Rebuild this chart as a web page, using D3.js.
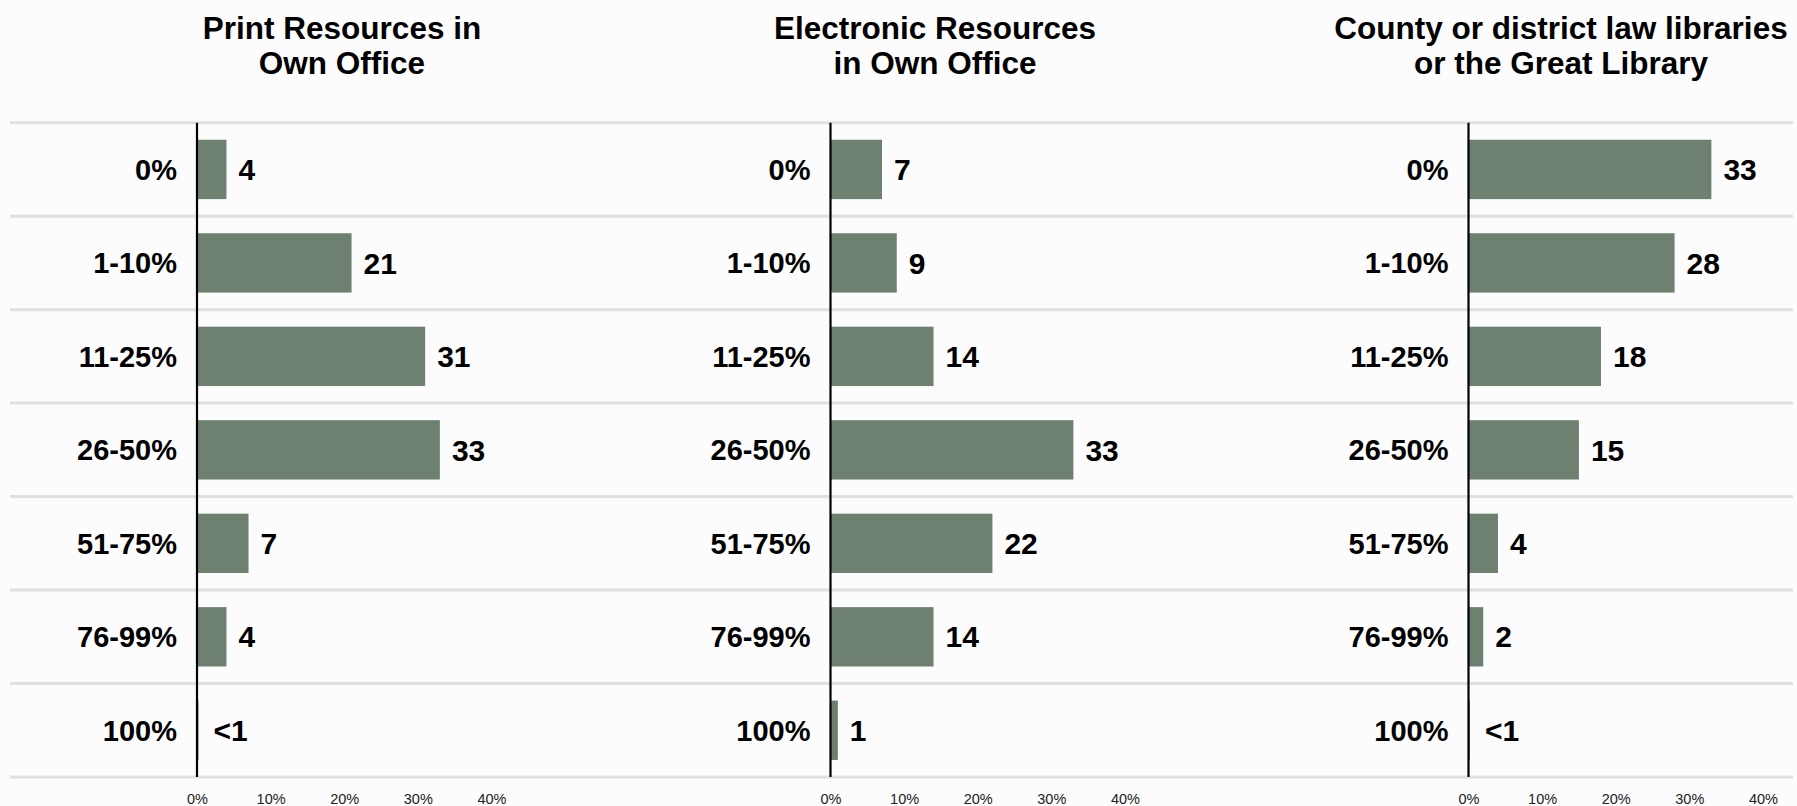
<!DOCTYPE html>
<html>
<head>
<meta charset="utf-8">
<script src="https://cdn.jsdelivr.net/npm/d3@7"></script>
<style>
  html, body { margin: 0; padding: 0; background: #fcfcfc; }
  svg { display: block; }
  text { font-family: "Liberation Sans", Arial, sans-serif; }
</style>
</head>
<body>
<svg id="chart" width="1797" height="806"></svg>
<script>
// ---- data ----
const categories = ["0%", "1-10%", "11-25%", "26-50%", "51-75%", "76-99%", "100%"];
const panelTitles = [
  ["Print Resources in", "Own Office"],
  ["Electronic Resources", "in Own Office"],
  ["County or district law libraries", "or the Great Library"]
];
const printValues      = [4, 21, 31, 33, 7, 4, 0.2];
const printLabels      = ["4", "21", "31", "33", "7", "4", "<1"];
const electronicValues = [7, 9, 14, 33, 22, 14, 1];
const electronicLabels = ["7", "9", "14", "33", "22", "14", "1"];
const libraryValues    = [33, 28, 18, 15, 4, 2, 0.2];
const libraryLabels    = ["33", "28", "18", "15", "4", "2", "<1"];
const tickValues = [0, 10, 20, 30, 40];

const panels = [
  { title: panelTitles[0], values: printValues, labels: printLabels },
  { title: panelTitles[1], values: electronicValues, labels: electronicLabels },
  { title: panelTitles[2], values: libraryValues, labels: libraryLabels }
];

// ---- layout ----
const W = 1797, H = 806;
const axisX = [197, 830.5, 1468.5];
const titleX = [342, 935, 1561];
const plotTop = 122.7, plotBottom = 777;
const unitPx = 7.36;
const barColor = "#6e8070";

const svg = d3.select("#chart");
svg.append("rect").attr("width", W).attr("height", H).attr("fill", "#fcfcfc");

const y = d3.scaleBand().domain(categories).range([plotTop, plotBottom])
  .paddingInner(0.365).paddingOuter(0.1825);
const step = y.step();
const boundaries = d3.range(categories.length + 1).map(i => plotTop + i * step);

// gridlines (continuous across panels)
svg.append("g").selectAll("line").data(boundaries).join("line")
  .attr("x1", 10).attr("x2", 1793)
  .attr("y1", d => d).attr("y2", d => d)
  .attr("stroke", "#e0e0e0").attr("stroke-width", 3);

panels.forEach((p, pi) => {
  const x0 = axisX[pi];
  const x = d3.scaleLinear().domain([0, 10]).range([x0, x0 + unitPx * 10]);
  const g = svg.append("g");

  // title
  const t = g.append("text")
    .attr("text-anchor", "middle")
    .attr("font-size", 31.5).attr("font-weight", "bold").attr("fill", "#000");
  p.title.forEach((line, li) => {
    t.append("tspan").attr("x", titleX[pi]).attr("y", 38.5 + li * 35).text(line);
  });

  // bars
  g.selectAll("rect.bar").data(p.values).join("rect")
    .attr("class", "bar")
    .attr("x", x(0))
    .attr("y", (d, i) => y(categories[i]))
    .attr("width", d => x(d) - x(0))
    .attr("height", y.bandwidth())
    .attr("fill", barColor);

  // value labels
  g.selectAll("text.val").data(p.values).join("text")
    .attr("class", "val")
    .attr("x", d => x(d) + (d < 1 ? 15 : 12))
    .attr("y", (d, i) => y(categories[i]) + y.bandwidth() / 2 + 10.7)
    .attr("font-size", 30).attr("font-weight", "bold").attr("fill", "#000")
    .text((d, i) => p.labels[i]);

  // category labels
  g.selectAll("text.cat").data(categories).join("text")
    .attr("class", "cat")
    .attr("x", x0 - 20)
    .attr("y", d => y(d) + y.bandwidth() / 2 + 10.5)
    .attr("text-anchor", "end")
    .attr("font-size", 29).attr("font-weight", "bold").attr("fill", "#000")
    .text(d => d);

  // axis line
  g.append("line")
    .attr("x1", x0).attr("x2", x0)
    .attr("y1", plotTop).attr("y2", plotBottom)
    .attr("stroke", "#000").attr("stroke-width", 2.2);

  // x tick labels
  const axis = d3.axisBottom(x).tickValues(tickValues).tickSize(0).tickPadding(0)
    .tickFormat(d => d + "%");
  const ag = g.append("g").attr("transform", `translate(0, ${plotBottom})`).call(axis);
  ag.select(".domain").remove();
  ag.selectAll("text")
    .attr("y", 27).attr("dy", null)
    .attr("font-size", 14.5).attr("fill", "#222")
    .style("font-family", "'Liberation Sans', Arial, sans-serif");
});
</script>
</body>
</html>
